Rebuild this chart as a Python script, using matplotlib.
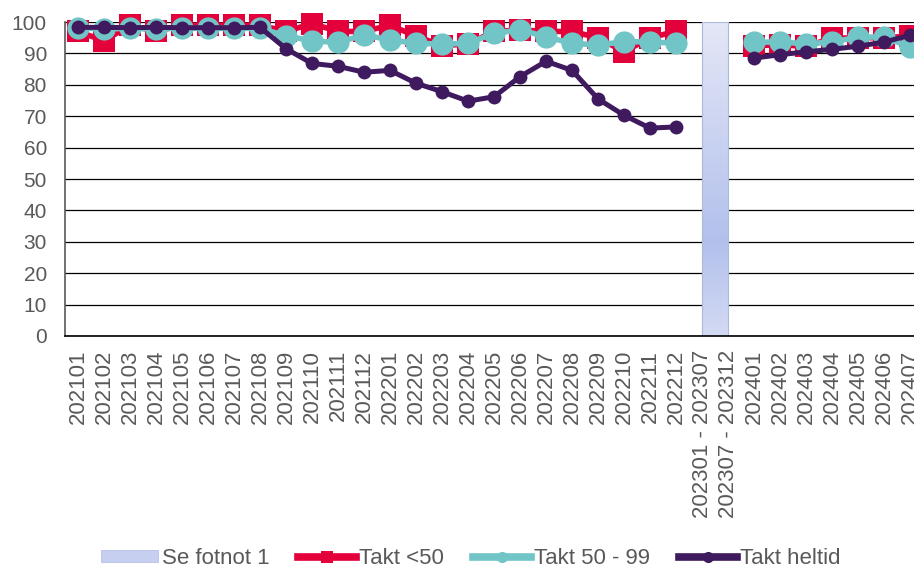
import numpy as np
import matplotlib
matplotlib.use("Agg")
import matplotlib.pyplot as plt
from matplotlib.lines import Line2D
from matplotlib.patches import Patch
from matplotlib.colors import LinearSegmentedColormap

plt.rcParams['font.family'] = ['Liberation Sans', 'DejaVu Sans']

categories = [
    "202101", "202102", "202103", "202104", "202105", "202106", "202107", "202108",
    "202109", "202110", "202111", "202112",
    "202201", "202202", "202203", "202204", "202205", "202206", "202207", "202208",
    "202209", "202210", "202211", "202212",
    "202301 - 202307", "202307 - 202312",
    "202401", "202402", "202403", "202404", "202405", "202406", "202407",
]
band_start = "202301 - 202307"
band_end = "202307 - 202312"

N = None
takt_lt50 = [97, 94, 99, 97, 99, 99, 99, 99, 97, 99.5, 97, 97,
             99, 95.5, 92.5, 93, 97, 97.5, 97, 97, 95, 90.5, 95, 97,
             N, N,
             92.5, 92.7, 92.3, 94.8, 95, 95, 95.5]
takt_50_99 = [98.2, 97.8, 98, 97.8, 98, 98, 98, 98, 95.6, 94, 93.5, 95.9,
              94.3, 93.2, 93, 93.2, 96.4, 97.5, 95.3, 93.2, 92.7, 93.7, 93.7, 93.2,
              N, N,
              93.5, 93.7, 93, 93.7, 95.1, 95.3, 92]
takt_heltid = [98.3, 98.3, 98.2, 98.3, 98.2, 98.2, 98.2, 98.3, 91.5, 86.8, 85.9, 84,
               84.6, 80.5, 77.8, 74.8, 76.2, 82.6, 87.5, 84.6, 75.5, 70.3, 66.2, 66.6,
               N, N,
               88.5, 89.6, 90.5, 91.3, 92.3, 93.6, 95.8]

labels = ["Se fotnot 1", "Takt <50", "Takt 50 - 99", "Takt heltid"]

RED = "#E4003A"
CYAN = "#72C5C6"
PURPLE = "#3F1A5E"
GRAY = "#595959"

def arr(v):
    return np.array([np.nan if a is None else a for a in v], dtype=float)

x = np.arange(len(categories))

fig = plt.figure(figsize=(9.14, 5.69), dpi=100)
ax = fig.add_axes([0.0711, 0.4095, 0.9289, 0.5518])

# footnote band with vertical gradient
x0 = categories.index(band_start)
x1 = categories.index(band_end)
cmap = LinearSegmentedColormap.from_list(
    "band", [(0.0, "#d3daf3"), (0.3, "#b2c0ec"), (1.0, "#e4e7f6")])
grad = np.linspace(0, 1, 256).reshape(-1, 1)
ax.imshow(grad, cmap=cmap, extent=[x0, x1, 0, 100], origin='lower',
          aspect='auto', zorder=1)
ax.add_patch(plt.Rectangle((x0, 0), x1 - x0, 100, fill=False,
                           edgecolor="#aeb8dc", lw=0.8, zorder=1.1))

ax.plot(x, arr(takt_lt50), color=RED, lw=4, marker='s', ms=16.5,
        markeredgewidth=0, zorder=3, clip_on=False)
ax.plot(x, arr(takt_50_99), color=CYAN, lw=4, marker='o', ms=16,
        markeredgewidth=0, zorder=4, clip_on=False)
ax.plot(x, arr(takt_heltid), color=PURPLE, lw=3.6, marker='o', ms=10,
        markeredgewidth=0, zorder=5, clip_on=False)

ax.set_xlim(-0.5, 32.15)
ax.set_ylim(0, 100)
ax.set_yticks(range(0, 101, 10))
ax.set_xticks(x)
ax.set_xticklabels(categories, rotation=90)
ax.yaxis.grid(True, color='black', lw=0.9, zorder=0)
ax.set_axisbelow(True)
for s in ['top', 'right']:
    ax.spines[s].set_visible(False)
ax.spines['left'].set_color(GRAY)
ax.spines['left'].set_linewidth(1.2)
ax.spines['bottom'].set_color('black')
ax.spines['bottom'].set_linewidth(1.2)
ax.tick_params(axis='both', length=0, colors=GRAY)
ax.tick_params(axis='y', labelsize=15, pad=13)
ax.tick_params(axis='x', labelsize=16, pad=10)

handles = [
    Patch(facecolor="#c6cff0", edgecolor="#b8c2e6", lw=0.6),
    Line2D([0], [0], color=RED, lw=5.5, marker='s', ms=8, markeredgewidth=0),
    Line2D([0], [0], color=CYAN, lw=5.5, marker='o', ms=8, markeredgewidth=0),
    Line2D([0], [0], color=PURPLE, lw=5.5, marker='o', ms=8, markeredgewidth=0),
]
leg = fig.legend(handles, labels, loc='lower center', bbox_to_anchor=(0.515, -0.035),
                 ncol=4, frameon=False, fontsize=16, handlelength=2.6,
                 handleheight=0.45, columnspacing=1.3, handletextpad=0.15)
for t in leg.get_texts():
    t.set_color(GRAY)

fig.savefig("out.png", dpi=100)
